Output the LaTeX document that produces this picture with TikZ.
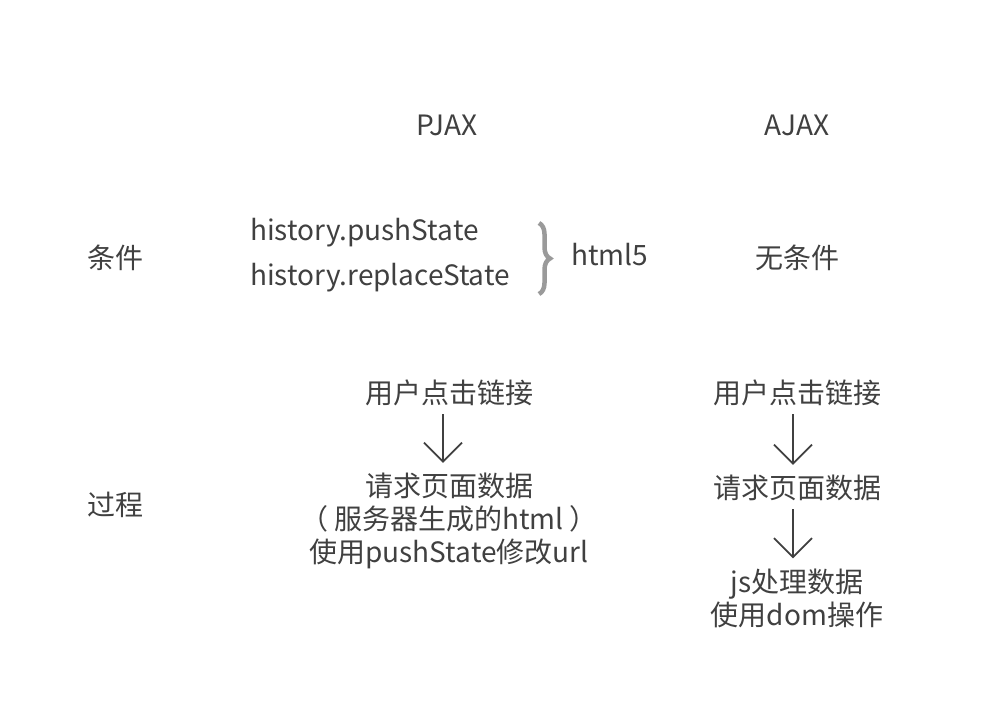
\documentclass[tikz,border=0pt]{standalone}
\usepackage{fontspec}
\setmainfont{Noto Sans CJK SC}
\usetikzlibrary{arrows.meta,decorations.pathreplacing}
\definecolor{ink}{HTML}{404040}
\definecolor{bracegray}{HTML}{9A9A9A}

\begin{document}
\begin{tikzpicture}[x=1pt,y=-1pt,
    txt/.style={text=ink, inner sep=0pt, align=center,
        font=\fontsize{28}{33}\selectfont},
    arr/.style={draw=ink, line width=1.8pt,
        -{Straight Barb[length=19pt,width=38pt,line width=1.8pt]}}]
    \useasboundingbox (0,0) rectangle (1002,724);
    % column heads
    \node[txt] (pjax) at (447,125) {PJAX};
    \node[txt] (ajax) at (797,125) {AJAX};
    % row 1
    \node[txt] (cond) at (115,258) {条件};
    \node[txt, anchor=west] (push) at (250,233) {history.pushState};
    \node[txt, anchor=west] (repl) at (250,278) {history.replaceState};
    \coordinate (btop) at (539,223);
    \coordinate (bbot) at (539,294);
    \draw[bracegray, line width=4.5pt, decorate,
        decoration={brace, amplitude=11pt}] (btop) -- (bbot);
    \node[txt, anchor=west] (html) at (571,255) {html5};
    \node[txt] (none) at (797,258) {无条件};
    % row 2
    \node[txt] (proc) at (115,505) {过程};
    \node[txt] (pclick) at (449,393) {用户点击链接};
    \node[txt] (preq) at (449,521) {请求页面数据\\（ 服务器生成的html ）\\使用pushState修改url};
    \draw[arr] ([xshift=-6pt,yshift=-8pt]pclick.south) -- ([xshift=-6pt,yshift=10pt]preq.north);
    \node[txt] (aclick) at (797,393) {用户点击链接};
    \node[txt] (areq) at (797,488) {请求页面数据};
    \node[txt] (ajs) at (797,598) {js处理数据\\使用dom操作};
    \draw[arr] ([xshift=-4pt,yshift=-8pt]aclick.south) -- ([xshift=-4pt,yshift=10pt]areq.north);
    \draw[arr] ([xshift=-4pt,yshift=-8pt]areq.south) -- ([xshift=-4pt,yshift=10pt]ajs.north);
\end{tikzpicture}
\end{document}
